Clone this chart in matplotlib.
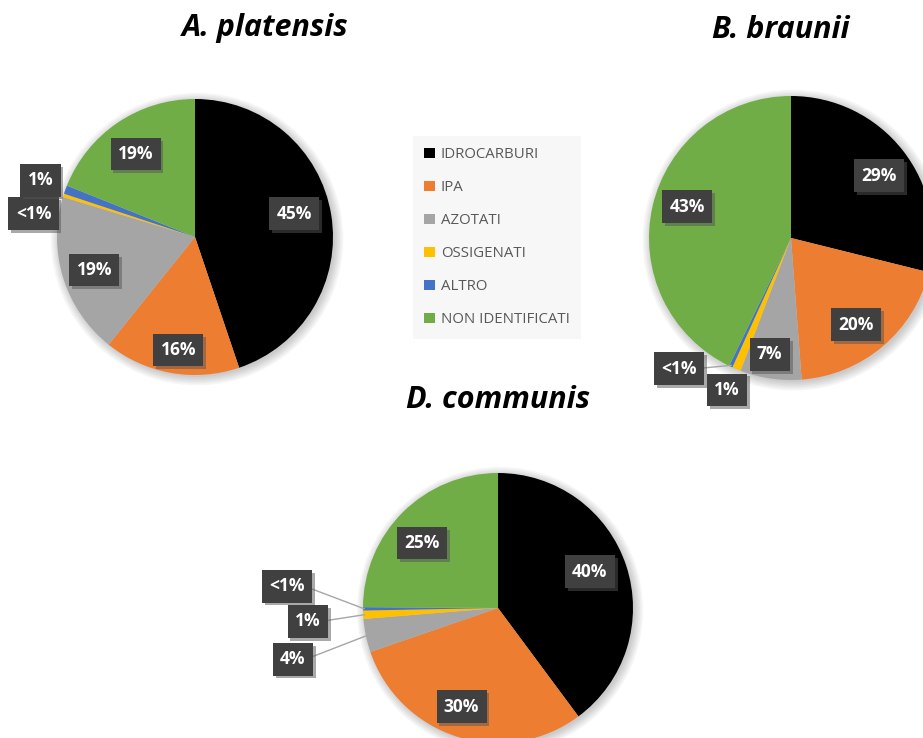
import matplotlib.pyplot as plt
import matplotlib.patheffects as pe
from matplotlib.patches import Patch, Circle
import numpy as np

plt.rcParams['font.family'] = ['Open Sans', 'DejaVu Sans']

categories = ['IDROCARBURI', 'IPA', 'AZOTATI', 'OSSIGENATI', 'ALTRO', 'NON IDENTIFICATI']
colors = ['#000000', '#ED7D31', '#A5A5A5', '#FFC000', '#4472C4', '#70AD47']

platensis = [45, 16, 19, 0.4, 1, 19]
braunii = [29, 20, 7, 1, 0.4, 43]
communis = [40, 30, 4, 1, 0.4, 25]

platensis_labels = ['45%', '16%', '19%', '<1%', '1%', '19%']
braunii_labels = ['29%', '20%', '7%', '1%', '<1%', '43%']
communis_labels = ['40%', '30%', '4%', '1%', '<1%', '25%']

W, H = 923, 738
fig = plt.figure(figsize=(W / 100, H / 100), dpi=100)


def draw_pie(values, labels, cx, cy, r, label_pos, leaders, title, title_xy):
    k = 1.9
    ax = fig.add_axes([(cx - k * r) / W, 1 - (cy + k * r) / H, 2 * k * r / W, 2 * k * r / H])
    # soft halo around the pie
    for i in range(6):
        ax.add_patch(Circle((0.015, -0.015), 1.0 + 0.012 * i, color='black',
                            alpha=0.035, lw=0, zorder=0))
    wedges, _ = ax.pie(values, colors=colors, startangle=90, counterclock=False,
                       radius=1, wedgeprops=dict(linewidth=0))
    for w in wedges:
        w.set_zorder(2)
    for i, (w, lab, pos) in enumerate(zip(wedges, labels, label_pos)):
        box = dict(boxstyle='square,pad=0.42', fc='#404040', ec='none')
        if i in leaders:
            mid = np.deg2rad((w.theta1 + w.theta2) / 2)
            xy = (0.99 * np.cos(mid), 0.99 * np.sin(mid))
            t = ax.annotate(lab, xy=xy, xytext=pos, ha='center', va='center',
                            color='white', fontsize=12.5, fontweight='bold', bbox=box,
                            zorder=5,
                            arrowprops=dict(arrowstyle='-', color='#a6a6a6', lw=1,
                                            shrinkA=0, shrinkB=0, relpos=(1, 0.5)))
        else:
            t = ax.text(pos[0], pos[1], lab, ha='center', va='center', color='white',
                        fontsize=12.5, fontweight='bold', bbox=box, zorder=5)
        t.get_bbox_patch().set_path_effects(
            [pe.withSimplePatchShadow(offset=(2, -2), shadow_rgbFace='#555555', alpha=0.5)])
    ax.set_xlim(-k, k)
    ax.set_ylim(-k, k)
    ax.axis('off')
    fig.text(title_xy[0] / W, 1 - title_xy[1] / H, title, ha='center', va='center',
             fontsize=22, fontweight='bold', fontstyle='italic', color='black')


draw_pie(platensis, platensis_labels, 195, 237, 138,
         [(0.72, 0.17), (-0.12, -0.82), (-0.73, -0.24), (-1.17, 0.17), (-1.12, 0.41), (-0.43, 0.60)],
         [], 'A. platensis', (265, 28))
draw_pie(braunii, braunii_labels, 791, 238, 142,
         [(0.62, 0.44), (0.46, -0.61), (-0.15, -0.82), (-0.45, -1.07), (-0.79, -0.92), (-0.73, 0.22)],
         [4], 'B. braunii', (781, 30))
draw_pie(communis, communis_labels, 498, 608, 135,
         [(0.68, 0.27), (-0.27, -0.73), (-1.52, -0.38), (-1.41, -0.10), (-1.56, 0.16), (-0.56, 0.48)],
         [2, 3, 4], 'D. communis', (498, 400))

handles = [Patch(facecolor=c, edgecolor='none') for c in colors]
leg = fig.legend(handles, categories, loc='upper left', bbox_to_anchor=(413 / W, 1 - 136 / H),
                 borderaxespad=0, fontsize=10.8, frameon=True, fancybox=False,
                 facecolor='#f7f7f7', edgecolor='none', framealpha=1, labelspacing=1.2,
                 borderpad=0.75, handlelength=0.7, handleheight=0.7, handletextpad=0.4,
                 labelcolor='#595959')

fig.savefig('out.png', dpi=100)
